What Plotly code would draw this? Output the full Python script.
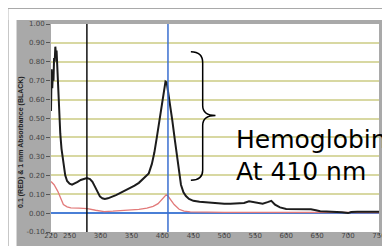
import plotly.graph_objects as go

# ---- data ----
black_nm = [220, 221, 222, 223, 224, 225, 226, 227, 228, 229, 230, 231, 233, 235, 237, 240,
            243, 246, 250, 254, 258, 263, 268, 273, 278, 283, 287, 291, 295, 299, 303, 307,
            312, 318, 325, 333, 341, 348, 355, 362, 368, 373, 378, 383, 387, 391, 395, 398,
            401, 403, 405, 407, 409, 412, 416, 420, 424, 427, 430, 434, 438, 443, 450, 460,
            470, 480, 490, 500, 510, 518, 525, 532, 540, 547, 555, 562, 570, 576, 582, 590,
            600, 610, 620, 630, 640, 648, 655, 665, 675, 690, 700, 705, 715, 730, 750]
black_abs = [0.54, 0.76, 0.66, 0.73, 0.70, 0.82, 0.80, 0.88, 0.84, 0.86, 0.78, 0.68, 0.52, 0.42, 0.34, 0.26,
             0.20, 0.17, 0.155, 0.15, 0.155, 0.165, 0.175, 0.182, 0.185, 0.18, 0.165, 0.14, 0.11, 0.088, 0.078, 0.075,
             0.078, 0.085, 0.095, 0.108, 0.12, 0.132, 0.145, 0.16, 0.178, 0.19, 0.21, 0.26, 0.32, 0.40, 0.49, 0.56,
             0.62, 0.66, 0.695, 0.69, 0.65, 0.58, 0.49, 0.39, 0.30, 0.22, 0.15, 0.11, 0.09, 0.075, 0.065, 0.06,
             0.057, 0.053, 0.051, 0.05, 0.05, 0.052, 0.05, 0.053, 0.062, 0.057, 0.052, 0.05, 0.058, 0.065, 0.045, 0.03,
             0.022, 0.021, 0.023, 0.022, 0.02, 0.015, 0.01, 0.008, 0.007, 0.004, 0.0, 0.006, 0.007, 0.006, 0.007]

red_nm = [220, 225, 231, 236, 240, 246, 252, 265, 279, 292, 306, 320, 335, 348, 362, 375,
          385, 393, 399, 403, 406, 409, 413, 419, 427, 435, 445, 470, 500, 550, 600, 650, 700, 750]
red_abs = [0.167, 0.15, 0.115, 0.07, 0.045, 0.033, 0.028, 0.026, 0.024, 0.015, 0.008, 0.01, 0.013, 0.016, 0.02, 0.026,
           0.036, 0.05, 0.072, 0.088, 0.097, 0.09, 0.07, 0.045, 0.02, 0.01, 0.006, 0.004, 0.004, 0.004, 0.003, 0.003, 0.003, 0.003]

x_ticks = [220, 250, 300, 350, 400, 450, 500, 550, 600, 650, 700, 750]
y_ticks = [-0.1, 0.0, 0.1, 0.2, 0.3, 0.4, 0.5, 0.6, 0.7, 0.8, 0.9, 1.0]
y_tick_text = ["-0.10", "0.00", "0.10", "0.20", "0.30", "0.40", "0.50", "0.60", "0.70", "0.80", "0.90", "1.00"]
marker_black_nm = 278
marker_blue_nm = 409

W, H = 390, 246
ML, MR, MT, MB = 43, 14, 15, 22
PW, PH = W - ML - MR, H - MT - MB


def px(x):
    return (x - ML) / PW


def py(y):
    return (H - MB - y) / PH


fig = go.Figure()
fig.add_trace(go.Scatter(x=red_nm, y=red_abs, mode="lines",
                         line=dict(color="#e27a7a", width=1.3), hoverinfo="skip"))
fig.add_trace(go.Scatter(x=black_nm, y=black_abs, mode="lines",
                         line=dict(color="#1c1c1c", width=2), hoverinfo="skip"))

shapes = []
# white outer strips over grey paper
for x0, y0, x1, y1 in [(0, 0, 8, H), (0, 0, W, 11), (381, 0, W, H)]:
    shapes.append(dict(type="rect", xref="paper", yref="paper",
                       x0=px(x0), x1=px(x1), y0=py(y1), y1=py(y0),
                       fillcolor="white", line=dict(width=0), layer="below"))
# vertical marker lines
shapes.append(dict(type="line", xref="x", yref="paper", x0=marker_black_nm, x1=marker_black_nm,
                   y0=0, y1=1, line=dict(color="#111111", width=1.5), layer="above"))
shapes.append(dict(type="line", xref="x", yref="paper", x0=marker_blue_nm, x1=marker_blue_nm,
                   y0=0, y1=1, line=dict(color="#3a6fd0", width=1.5), layer="above"))

# curly brace
pts = [("M", [(185, 43)]),
       ("C", [(193, 43), (197, 46), (197, 54)]),
       ("L", [(197, 97)]),
       ("C", [(197, 103), (201, 107), (210, 107)]),
       ("C", [(201, 107), (197, 111), (197, 117)]),
       ("L", [(197, 162)]),
       ("C", [(197, 169), (193, 172), (185, 172)])]
path = ""
for cmd, plist in pts:
    path += cmd + " " + " ".join(f"{px(a):.5f},{py(b):.5f}" for a, b in plist) + " "
shapes.append(dict(type="path", xref="paper", yref="paper", path=path.strip(),
                   line=dict(color="black", width=1.5), layer="above"))

annotations = [
    dict(text="Hemoglobin", xref="paper", yref="paper", x=px(229), y=py(131),
         xanchor="left", yanchor="middle", showarrow=False,
         font=dict(family="DejaVu Sans", size=25, color="black")),
    dict(text="At 410 nm", xref="paper", yref="paper", x=px(229), y=py(163),
         xanchor="left", yanchor="middle", showarrow=False,
         font=dict(family="DejaVu Sans", size=25, color="black")),
    dict(text="<b>0.1 (RED) &amp; 1 mm Absorbance (BLACK)</b>", xref="paper", yref="paper",
         x=px(13), y=py(133), xanchor="center", yanchor="middle", textangle=-90,
         showarrow=False, font=dict(family="Liberation Sans", size=7, color="#222222")),
    dict(text="<b>Wavelength nm</b>", xref="paper", yref="paper",
         x=px(209), y=py(244.5), xanchor="center", yanchor="bottom", borderpad=0,
         showarrow=False, font=dict(family="Liberation Sans", size=6, color="#222222")),
]

fig.update_layout(
    width=W, height=H,
    margin=dict(l=ML, r=MR, t=MT, b=MB),
    paper_bgcolor="#a9a9a9",
    plot_bgcolor="white",
    showlegend=False,
    shapes=shapes,
    annotations=annotations,
    xaxis=dict(range=[220, 750], tickvals=x_ticks, ticks="outside", ticklen=2,
               tickcolor="#555555", showgrid=False, zeroline=False, showline=False,
               ticklabelstandoff=-5,
               tickfont=dict(family="DejaVu Sans", size=7, color="#444444")),
    yaxis=dict(range=[-0.1, 1.0], tickvals=y_ticks, ticktext=y_tick_text, ticks="outside",
               ticklen=4, tickcolor="#555555", showgrid=True, gridcolor="#d8d8a2", gridwidth=1.5,
               zeroline=True, zerolinecolor="#4a7fd6", zerolinewidth=2.2, showline=False,
               tickfont=dict(family="DejaVu Sans", size=7, color="#444444")),
)

fig.write_html("out.html")
